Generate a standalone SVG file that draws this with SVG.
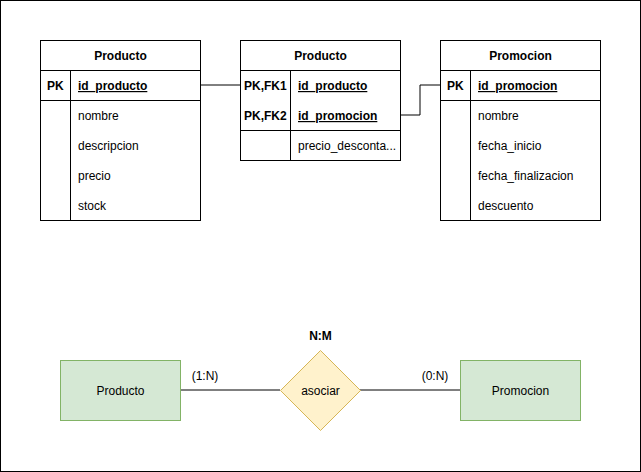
<svg xmlns="http://www.w3.org/2000/svg" width="641" height="472" viewBox="0 0 641 472">
<style>
text{font-family:"Liberation Sans",Arial,sans-serif;font-size:12px;fill:#000}
.b{font-weight:bold}
.u{font-weight:bold;text-decoration:underline}
.t{fill:#fff;stroke:#000;stroke-width:1}
.l{stroke:#000;stroke-width:1;fill:none}
.m{text-anchor:middle}
</style>
<rect x="0.5" y="0.5" width="640" height="471" fill="#fff" stroke="#000"/>
<g id="connectors">
<path class="l" d="M200 85H240"/>
<path class="l" d="M400 115H420V85H440"/>
<path class="l" d="M180 390H280"/>
<path class="l" d="M360 390H460"/>
</g>
<g id="t1">
<rect class="t" x="40.5" y="40.5" width="160" height="180"/>
<path class="l" d="M40.5 70.5H200.5M40.5 100.5H200.5M70.5 70.5V220.5"/>
<text class="b m" x="120.5" y="60">Producto</text>
<text class="b" x="47" y="90">PK</text>
<text class="u" x="78" y="90">id_producto</text>
<text x="78" y="120">nombre</text>
<text x="78" y="150">descripcion</text>
<text x="78" y="180">precio</text>
<text x="78" y="210">stock</text>
</g>
<g id="t2">
<rect class="t" x="240.5" y="40.5" width="160" height="120"/>
<path class="l" d="M240.5 70.5H400.5M240.5 130.5H400.5M290.5 70.5V160.5"/>
<text class="b m" x="320.5" y="60">Producto</text>
<text class="b" x="244" y="90">PK,FK1</text>
<text class="u" x="298" y="90">id_producto</text>
<text class="b" x="244" y="120">PK,FK2</text>
<text class="u" x="298" y="120">id_promocion</text>
<text x="298" y="150">precio_desconta...</text>
</g>
<g id="t3">
<rect class="t" x="440.5" y="40.5" width="160" height="180"/>
<path class="l" d="M440.5 70.5H600.5M440.5 100.5H600.5M470.5 70.5V220.5"/>
<text class="b m" x="520.5" y="60">Promocion</text>
<text class="b" x="447" y="90">PK</text>
<text class="u" x="478" y="90">id_promocion</text>
<text x="478" y="120">nombre</text>
<text x="478" y="150">fecha_inicio</text>
<text x="478" y="180">fecha_finalizacion</text>
<text x="478" y="210">descuento</text>
</g>
<g id="e1">
<rect x="60.5" y="360.5" width="120" height="60" fill="#d5e8d4" stroke="#82b366"/>
<text class="m" x="120.5" y="395">Producto</text>
</g>
<g id="rel">
<path d="M320.5 350.5L360.5 390.5L320.5 430.5L280.5 390.5Z" fill="#fff2cc" stroke="#d6b656"/>
<text class="m" x="320.5" y="395">asociar</text>
<text class="b m" x="320.5" y="340">N:M</text>
</g>
<g id="e2">
<rect x="460.5" y="360.5" width="120" height="60" fill="#d5e8d4" stroke="#82b366"/>
<text class="m" x="520.5" y="395">Promocion</text>
</g>
<text class="m" x="205" y="380">(1:N)</text>
<text class="m" x="435" y="380">(0:N)</text>
</svg>
